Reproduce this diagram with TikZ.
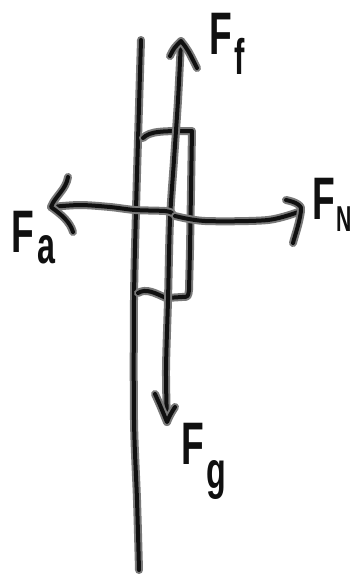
\documentclass[tikz,border=0pt]{standalone}
\usepackage{fontspec}
\setmainfont{Liberation Sans}
\definecolor{ink}{HTML}{101010}
\definecolor{halo}{HTML}{7A7A7A}
\tikzset{
  pen/.style={line width=4pt, draw=ink, line cap=round, line join=round,
    preaction={draw=halo, line width=8pt, line cap=round, line join=round}},
  letter/.style={text=ink, inner sep=0pt, xscale=0.62, font=\bfseries},
}
\begin{document}
\begin{tikzpicture}[x=1pt,y=-1pt]
\useasboundingbox[fill=white] (0,0) rectangle (354,574);
% key points
\coordinate (wallT) at (141,40);
\coordinate (wallB) at (139,570);
\coordinate (ffTip) at (181,41);
\coordinate (fgTip) at (167,422);
\coordinate (faTip) at (51,207);
\coordinate (fnTip) at (301,211);
% wall
\draw[pen] plot[smooth] coordinates {(wallT) (138,140) (136,210) (134,300) (134,420) (137,500) (wallB)};
% box
\draw[pen] (143,138) .. controls (150,131) and (162,131) .. (192,131) -- (190,250) -- (189,290)
  .. controls (188,297) .. (182,297) -- (166,298) .. controls (155,293) and (146,288) .. (138,293);
% vertical force line (Ff up, Fg down)
\draw[pen] plot[smooth] coordinates {(ffTip) (178,100) (174,160) (170,220) (168,300) (166,370) (fgTip)};
\draw[pen] (170,56) .. controls (174,48) .. (ffTip) .. controls (188,50) .. (197,68);
\draw[pen] (155,394) .. controls (160,405) .. (fgTip) .. controls (170,415) .. (175,407);
% horizontal force line (Fa left, FN right)
\draw[pen] plot[smooth] coordinates {(faTip) (80,205) (110,207) (135,210) (165,211) (172,213)};
\draw[pen] plot[smooth] coordinates {(175,216) (205,221) (268,220) (fnTip)};
\draw[pen] (68,177) .. controls (66,190) and (55,196) .. (faTip) .. controls (62,215) and (70,222) .. (73,232);
\draw[pen] (286,200) .. controls (296,202) and (303,206) .. (fnTip) .. controls (299,225) and (295,235) .. (293,243);
% labels
\node[letter, font=\fontsize{60}{60}\selectfont\bfseries] (ffF) at (221,34) {F};
\node[letter, font=\fontsize{50}{50}\selectfont\bfseries] (ffs) at (240,56) {f};
\node[letter, font=\fontsize{60}{60}\selectfont\bfseries] (fnF) at (324,199) {F};
\node[letter, xscale=0.95, font=\fontsize{36}{36}\selectfont\bfseries] (fns) at (344,219) {N};
\node[letter, font=\fontsize{60}{60}\selectfont\bfseries] (faF) at (23,232) {F};
\node[letter, font=\fontsize{52}{52}\selectfont\bfseries] (fas) at (46,250) {a};
\node[letter, font=\fontsize{60}{60}\selectfont\bfseries] (fgF) at (193,444) {F};
\node[letter, font=\fontsize{52}{52}\selectfont\bfseries] (fgs) at (216,480) {g};
\end{tikzpicture}
\end{document}
